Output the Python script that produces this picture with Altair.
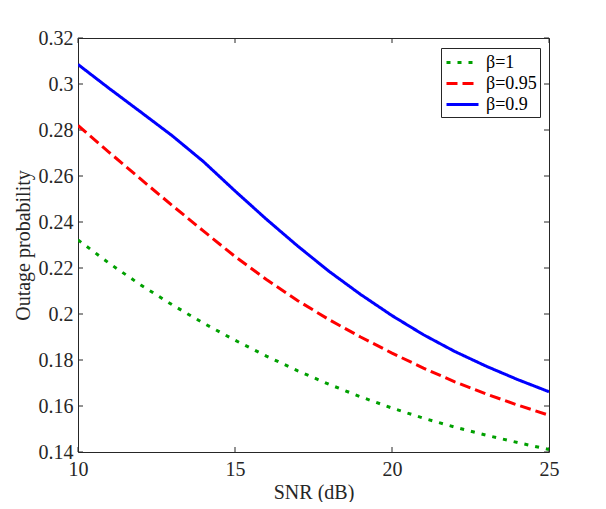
import altair as alt
import pandas as pd

# ---------------- data ----------------
snr = [10, 11, 12, 13, 14, 15, 16, 17, 18, 19, 20, 21, 22, 23, 24, 25]
beta_labels = ["β=1", "β=0.95", "β=0.9"]
p_beta_1 = [0.2322, 0.2220, 0.2126, 0.2040, 0.1960, 0.1886, 0.1817, 0.1753,
            0.1694, 0.1640, 0.1591, 0.1547, 0.1508, 0.1473, 0.1441, 0.1411]
p_beta_095 = [0.2820, 0.2702, 0.2586, 0.2472, 0.2360, 0.2250, 0.2150, 0.2058,
              0.1975, 0.1900, 0.1830, 0.1765, 0.1705, 0.1652, 0.1604, 0.1560]
p_beta_09 = [0.3085, 0.2980, 0.2878, 0.2775, 0.2662, 0.2535, 0.2412, 0.2295,
             0.2185, 0.2085, 0.1993, 0.1910, 0.1837, 0.1773, 0.1715, 0.1662]
x_ticks = [10, 15, 20, 25]
y_ticks = [0.14, 0.16, 0.18, 0.2, 0.22, 0.24, 0.26, 0.28, 0.3, 0.32]

colors = ["#00a000", "#ff0000", "#0000ff"]
dashes = [[4, 7], [11, 5], [1, 0]]

W, H = 471, 414
FONT = "Liberation Serif"
AX = "#262626"

rows = []
for lab, vals in zip(beta_labels, [p_beta_1, p_beta_095, p_beta_09]):
    for s, v in zip(snr, vals):
        rows.append({"snr": s, "p": v, "beta": lab})
df = pd.DataFrame(rows)

x_scale = alt.Scale(domain=[10, 25], nice=False, zero=False)
y_scale = alt.Scale(domain=[0.14, 0.32], nice=False, zero=False)
x_axis = alt.Axis(values=x_ticks, title="SNR (dB)", format="d", labelFlush=False)
y_axis = alt.Axis(values=y_ticks, title="Outage probability", format="~g", labelFlush=False)

leg = alt.Legend(
    title=None, orient="none", legendX=363, legendY=10,
    symbolType="M-0.9,0L2.3,0", symbolSize=400, symbolStrokeWidth=3,
    labelFont=FONT, labelFontSize=18, labelColor="#000000",
    strokeColor=AX, fillColor="#ffffff", padding=3,
    rowPadding=-1, labelOffset=19, labelLimit=200,
)

lines = alt.Chart(df).mark_line(strokeWidth=3, strokeCap="butt", clip=True).encode(
    x=alt.X("snr:Q", scale=x_scale, axis=x_axis),
    y=alt.Y("p:Q", scale=y_scale, axis=y_axis),
    color=alt.Color("beta:N", scale=alt.Scale(domain=beta_labels, range=colors), legend=leg),
    strokeDash=alt.StrokeDash("beta:N", scale=alt.Scale(domain=beta_labels, range=dashes), legend=leg),
    order=alt.Order("snr:Q"),
)

xt = pd.DataFrame({"snr": x_ticks})
yt = pd.DataFrame({"p": y_ticks})

tick_bottom = alt.Chart(xt).mark_rule(color=AX, strokeWidth=1).encode(
    x=alt.X("snr:Q", scale=x_scale, axis=x_axis), y=alt.value(H), y2=alt.value(H - 5))
tick_top = alt.Chart(xt).mark_rule(color=AX, strokeWidth=1).encode(
    x=alt.X("snr:Q", scale=x_scale, axis=x_axis), y=alt.value(0), y2=alt.value(5))
tick_left = alt.Chart(yt).mark_rule(color=AX, strokeWidth=1).encode(
    y=alt.Y("p:Q", scale=y_scale, axis=y_axis), x=alt.value(0), x2=alt.value(5))
tick_right = alt.Chart(yt).mark_rule(color=AX, strokeWidth=1).encode(
    y=alt.Y("p:Q", scale=y_scale, axis=y_axis), x=alt.value(W), x2=alt.value(W - 5))

chart = alt.layer(tick_bottom, tick_top, tick_left, tick_right, lines).properties(
    width=W, height=H,
    autosize=alt.AutoSizeParams(type="none"),
    padding={"left": 70, "top": 30, "right": 40, "bottom": 50},
    background="#ffffff",
).configure_view(
    stroke=AX, strokeWidth=1,
).configure_axis(
    grid=False, domain=False, ticks=False,
    labelFont=FONT, labelFontSize=20, labelColor=AX,
    titleFont=FONT, titleFontSize=20, titleColor=AX, titleFontWeight="normal",
    labelPadding=5,
).configure_axisX(
    titlePadding=3, labelPadding=7,
).configure_axisY(
    titlePadding=5,
).configure_legend(
    labelFont=FONT, labelFontSize=18,
)

chart.save("out.html", embed_options={"renderer": "svg", "actions": False})
